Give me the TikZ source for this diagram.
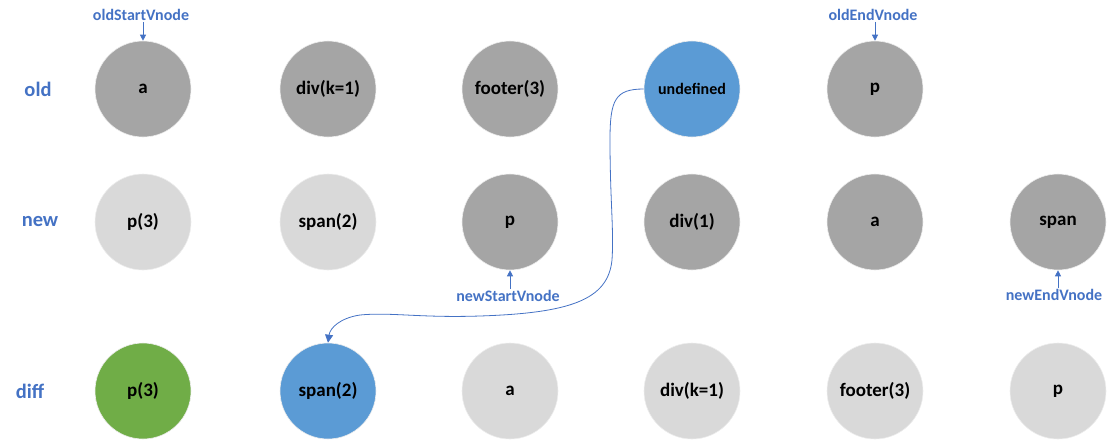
\documentclass[tikz,border=0pt]{standalone}
\usepackage{fontspec}
\setmainfont{Carlito}
\usetikzlibrary{arrows.meta}
\definecolor{darkgr}{HTML}{A5A5A5}
\definecolor{lightgr}{HTML}{D9D9D9}
\definecolor{bluefill}{HTML}{5B9BD5}
\definecolor{greenfill}{HTML}{70AD47}
\definecolor{txtblue}{HTML}{4472C4}
\tikzset{
  vn/.style={circle, minimum size=96pt, inner sep=0pt, draw=white!80!darkgr, line width=0.6pt,
    font=\fontsize{19}{22}\selectfont\bfseries, text=black},
  vdark/.style={vn, fill=darkgr},
  vlight/.style={vn, fill=lightgr},
  vblue/.style={vn, fill=bluefill},
  vgreen/.style={vn, fill=greenfill},
  rowlab/.style={font=\fontsize{20.5}{24}\selectfont\bfseries, text=txtblue},
  ptrlab/.style={font=\fontsize{16}{18}\selectfont\bfseries, text=txtblue, inner sep=1pt},
  ptr/.style={draw=txtblue, line width=0.8pt, -{Triangle[length=6pt,width=6pt]}},
  conn/.style={draw=txtblue, line width=0.8pt, -{Triangle[length=8pt,width=8pt]}}
}
\begin{document}
\begin{tikzpicture}[x=1pt, y=-1pt]
\useasboundingbox (0,0) rectangle (1114,440);

% row labels
\node[rowlab] (lold)  at (38,89)  {old};
\node[rowlab] (lnew)  at (40,222) {new};
\node[rowlab] (ldiff) at (30,391) {diff};

% old vnodes
\node[vdark] (o1) at (143,89) {a};
\node[vdark] (o2) at (328,89) {div(k=1)};
\node[vdark] (o3) at (510,89) {footer(3)};
\node[vblue, font=\fontsize{16}{18}\selectfont\bfseries] (o4) at (692,89) {undefined};
\node[vdark] (o5) at (875,89) {p};

% new vnodes
\node[vlight] (n1) at (143,222) {p(3)};
\node[vlight] (n2) at (328,222) {span(2)};
\node[vdark]  (n3) at (510,222) {p};
\node[vdark]  (n4) at (692,222) {div(1)};
\node[vdark]  (n5) at (875,222) {a};
\node[vdark]  (n6) at (1058,222) {span};

% diff result
\node[vgreen] (d1) at (143,391) {p(3)};
\node[vblue]  (d2) at (328,391) {span(2)};
\node[vlight] (d3) at (510,391) {a};
\node[vlight] (d4) at (692,391) {div(k=1)};
\node[vlight] (d5) at (875,391) {footer(3)};
\node[vlight] (d6) at (1058,391) {p};

% pointers
\node[ptrlab] (ps) at (141,15) {oldStartVnode};
\node[ptrlab] (pe) at (873,15) {oldEndVnode};
\node[ptrlab] (ns) at (508,296) {newStartVnode};
\node[ptrlab] (ne) at (1054,295) {newEndVnode};
\draw[ptr] (ps.south -| o1) -- (o1.north);
\draw[ptr] (pe.south -| o5) -- (o5.north);
\draw[ptr] (ns.north -| n3) -- (n3.south);
\draw[ptr] (ne.north -| n6) -- (n6.south);

% moved vnode
\draw[conn] (o4.west) .. controls (615,89) and (610,100) .. (610,140)
  .. controls (610,200) and (614,230) .. (612,260)
  .. controls (608,300) and (570,313) .. (480,316)
  .. controls (420,318) and (390,312) .. (360,315)
  .. controls (340,318) and (330,328) .. (d2.north);
\end{tikzpicture}
\end{document}
